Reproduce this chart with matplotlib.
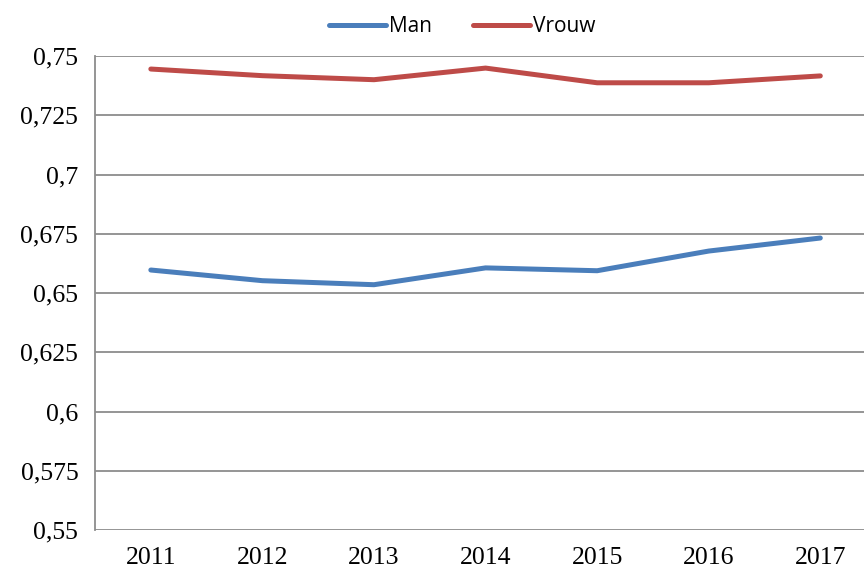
import matplotlib
matplotlib.use("Agg")
import matplotlib.pyplot as plt

years = ["2011", "2012", "2013", "2014", "2015", "2016", "2017"]
man = [0.6597, 0.6552, 0.6535, 0.6606, 0.6594, 0.6677, 0.6732]
vrouw = [0.7445, 0.7417, 0.7400, 0.7449, 0.7387, 0.7387, 0.7416]
yticks = [0.55, 0.575, 0.6, 0.625, 0.65, 0.675, 0.7, 0.725, 0.75]
ylabels = ["0,55", "0,575", "0,6", "0,625", "0,65", "0,675", "0,7", "0,725", "0,75"]

fig = plt.figure(figsize=(8.64, 5.72), dpi=100)
ax = fig.add_axes([0.110, 0.0734, 0.904, 0.8287])

x = range(len(years))
ax.plot(x, man, color="#4A7EBB", lw=3.6, solid_capstyle="round", label="Man")
ax.plot(x, vrouw, color="#BE4B48", lw=3.6, solid_capstyle="round", label="Vrouw")

ax.set_xlim(-0.5, len(years) - 0.5)
ax.set_ylim(0.55, 0.75)
ax.set_yticks(yticks)
ax.set_yticklabels(ylabels, family="Liberation Serif", fontsize=18.5)
ax.set_xticks(list(x))
ax.set_xticklabels(years, family="Liberation Serif", fontsize=18.5)
ax.tick_params(length=0)
ax.tick_params(axis="y", pad=12)
ax.tick_params(axis="x", pad=12)

ax.grid(axis="y", color="#8c8c8c", lw=1.3)
ax.set_axisbelow(True)
for s in ["top", "right", "bottom"]:
    ax.spines[s].set_visible(False)
ax.spines["left"].set_color("#8c8c8c")
ax.spines["left"].set_linewidth(1.3)

fig.legend(loc="upper center", bbox_to_anchor=(0.535, 1.005), ncol=2, frameon=False,
           prop={"family": "Open Sans", "size": 15}, handlelength=2.7,
           handletextpad=0.15, columnspacing=2.0)

fig.savefig("out.png", dpi=100)
